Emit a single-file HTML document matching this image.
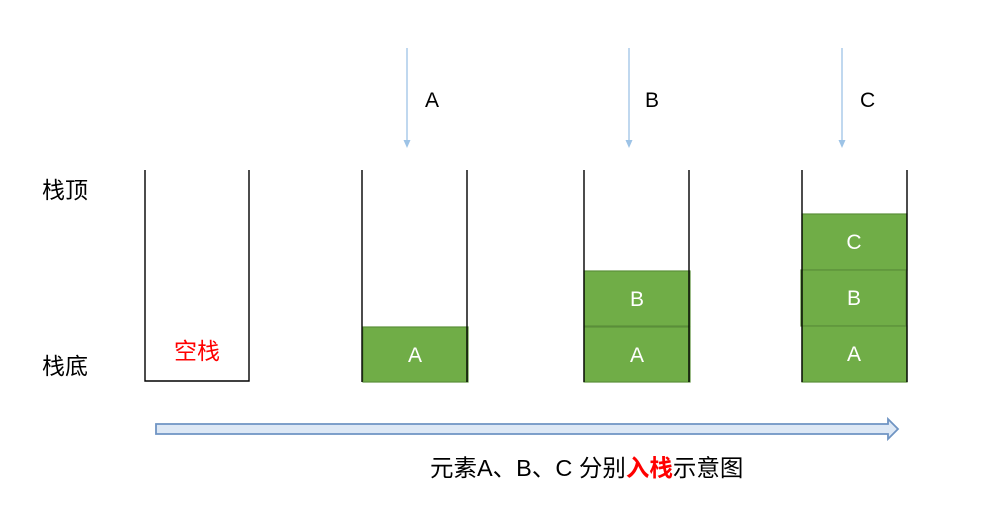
<!DOCTYPE html>
<html><head><meta charset="utf-8"><style>
html,body{margin:0;padding:0;background:#fff;width:1000px;height:525px;overflow:hidden}
svg{display:block}
text{font-family:"Liberation Sans","Noto Sans CJK SC",sans-serif}
</style></head><body>
<svg width="1000" height="525" viewBox="0 0 1000 525">
<g stroke="#9dc3e6" stroke-width="1.3" fill="#9dc3e6">
<line x1="407" y1="48" x2="407" y2="142"/><path d="M403.5 140 L410.5 140 L407 148 Z" stroke="none"/>
<line x1="629" y1="48" x2="629" y2="142"/><path d="M625.5 140 L632.5 140 L629 148 Z" stroke="none"/>
<line x1="842" y1="48" x2="842" y2="142"/><path d="M838.5 140 L845.5 140 L842 148 Z" stroke="none"/>
</g>
<g font-size="21" fill="#000">
<text x="425" y="107">A</text><text x="645" y="107">B</text><text x="860" y="107">C</text>
</g>
<g font-size="23" fill="#000">
<text x="42" y="198">栈顶</text><text x="42" y="374">栈底</text>
</g>
<g fill="#70ad47" stroke="#5b8f3a" stroke-width="1.2">
<rect x="363" y="327" width="105" height="55"/>
<rect x="584" y="271" width="106" height="55"/>
<rect x="584" y="327" width="106" height="55"/>
<rect x="802" y="214" width="105" height="56"/>
<rect x="801" y="270" width="105" height="56"/>
<rect x="802" y="326" width="105" height="56"/>
</g>
<g fill="none" stroke="#000" stroke-width="1.4">
<path d="M145 170 V381 H249 V170"/>
<path d="M362 170 V382 M467 170 V382"/>
<path d="M584 170 V382 M689 170 V382"/>
<path d="M802 170 V382 M907 170 V382"/>
</g>
<g fill="#fff" font-size="21" text-anchor="middle">
<text x="415" y="362">A</text>
<text x="637" y="306">B</text><text x="637" y="362">A</text>
<text x="854" y="249">C</text><text x="854" y="305">B</text><text x="854" y="361">A</text>
</g>
<text x="197" y="359" font-size="23" fill="#ff0000" text-anchor="middle">空栈</text>
<path d="M156 424 H888 V419 L898 429 L888 439 V434 H156 Z" fill="#dde8f5" stroke="#6f94c3" stroke-width="1.8"/>
<text x="430" y="476" font-size="23.5" fill="#000">元素A、B、C 分别<tspan fill="#ff0000" font-weight="bold">入栈</tspan>示意图</text>
</svg>
</body></html>
